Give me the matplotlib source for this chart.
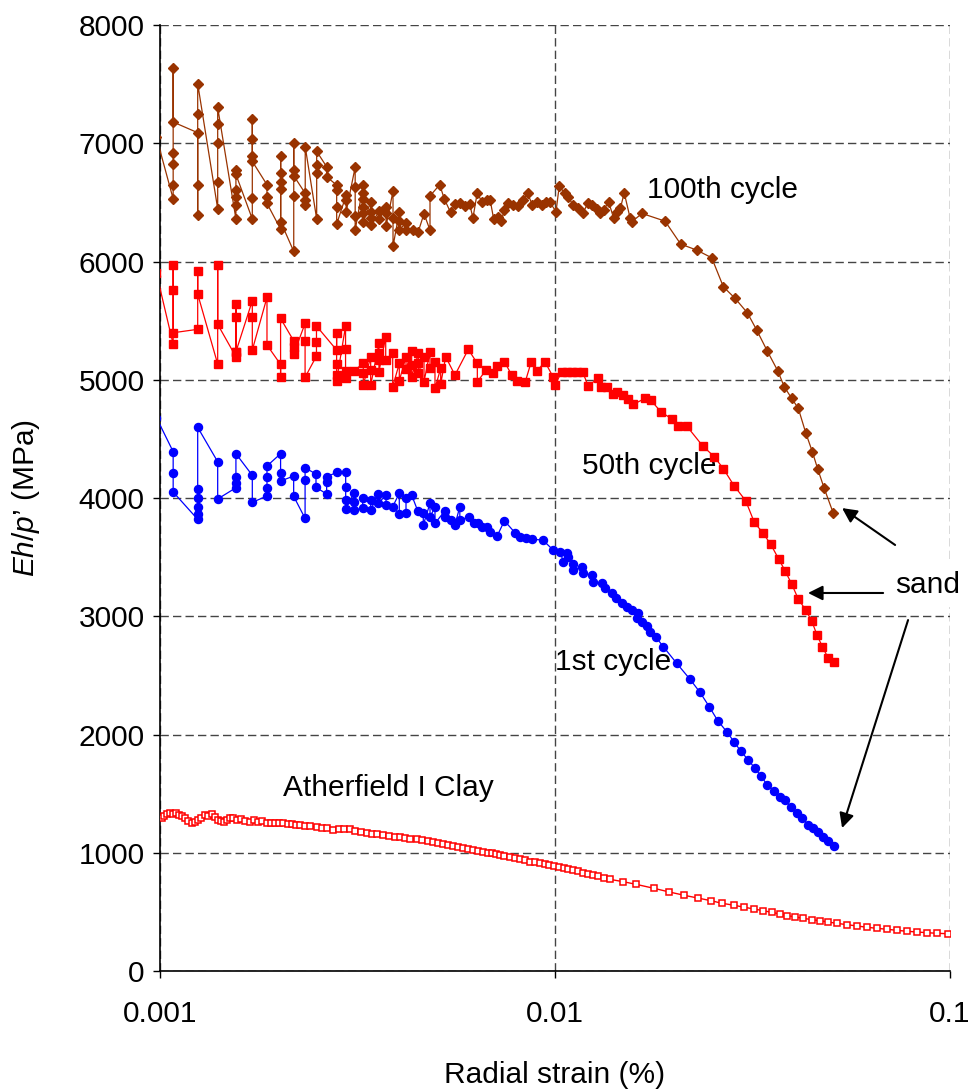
import matplotlib
matplotlib.use("Agg")
import matplotlib.pyplot as plt
from matplotlib.ticker import FixedLocator, FixedFormatter, NullLocator

plt.rcParams['font.family'] = ['Liberation Sans', 'DejaVu Sans']
plt.rcParams['mathtext.fontset'] = 'custom'
plt.rcParams['mathtext.it'] = 'Liberation Sans:italic'
plt.rcParams['mathtext.rm'] = 'Liberation Sans'

# ---- 100th cycle (sand) ----
strain_100 = [0.00098,
    0.00108, 0.00108, 0.00108, 0.00108, 0.00108, 0.00108,
    0.001246, 0.001246, 0.001246, 0.001246, 0.001246,
    0.0014, 0.0014, 0.0014, 0.0014, 0.0014,
    0.001557, 0.001557, 0.001557, 0.001557, 0.001557, 0.001557,
    0.001713, 0.001713, 0.001713, 0.001713, 0.001713, 0.001713,
    0.001866, 0.001866, 0.001866,
    0.002021, 0.002021, 0.002021, 0.002021, 0.002021, 0.002021,
    0.002181, 0.002181, 0.002181, 0.002181, 0.002181,
    0.002332, 0.002332, 0.002332, 0.002332,
    0.002493, 0.002493, 0.002493, 0.002493,
    0.002642, 0.002642,
    0.002801, 0.002801, 0.002801, 0.002801,
    0.00296, 0.00296, 0.00296,
    0.00312, 0.00312, 0.00312, 0.00312,
    0.003271, 0.003271, 0.003271, 0.003271, 0.003271, 0.003271,
    0.003415, 0.003415, 0.003415, 0.003415,
    0.003591, 0.003591,
    0.003735, 0.003735, 0.003735,
    0.00389, 0.00389, 0.00389,
    0.004035, 0.004035, 0.004035,
    0.004196, 0.004196,
    0.00437, 0.004508, 0.00466, 0.004826, 0.004826,
    0.005107, 0.005245, 0.005443, 0.005581, 0.005742, 0.00591, 0.006082,
    0.006199, 0.006356, 0.006527, 0.00672, 0.006853, 0.006997, 0.007162,
    0.007304, 0.007447, 0.007592, 0.007814, 0.008043, 0.008311, 0.008519,
    0.008768, 0.009024, 0.009288, 0.009472, 0.009693, 0.010058, 0.01025,
    0.01059, 0.0108, 0.01111, 0.01144, 0.01177, 0.01211, 0.01239, 0.01275,
    0.01302, 0.01328, 0.01367, 0.01408, 0.01435, 0.01464, 0.01497, 0.0155,
    0.01566, 0.0166, 0.01899, 0.0208, 0.02284, 0.02493, 0.02668, 0.02856,
    0.03068, 0.0324, 0.03447, 0.03662, 0.03805, 0.03973, 0.04129, 0.04312,
    0.04481, 0.04625, 0.04797, 0.05065]
eh_100 = [7050,
    6530, 6650, 6825, 6920, 7640, 7180,
    7090, 7245, 6650, 6393, 7504,
    6447, 6675, 7002, 7163, 7304,
    6360, 6478, 6548, 6605, 6776, 6737,
    6360, 6535, 7033, 7203, 6892, 6847,
    6650, 6548, 6492,
    6273, 6892, 6748, 6670, 6613, 6337,
    6086, 7002, 6774, 6551, 6726,
    6577, 6520, 6478, 6971,
    6360, 6746, 6813, 6932,
    6802, 6717,
    6647, 6605, 6458, 6317,
    6562, 6520, 6421,
    6799, 6633, 6385, 6266,
    6650, 6577, 6529, 6463, 6408, 6337,
    6500, 6420, 6370, 6310,
    6430, 6360,
    6460, 6410, 6300,
    6596, 6371, 6128,
    6420, 6340, 6266,
    6330, 6266,
    6266, 6254, 6405, 6266, 6555,
    6650, 6530, 6415, 6486, 6497, 6469, 6484,
    6370, 6582, 6506, 6520, 6520, 6357, 6379,
    6342, 6436, 6492, 6480, 6466, 6520, 6577,
    6478, 6506, 6478, 6506, 6506, 6421, 6638,
    6577, 6548, 6478, 6450, 6413, 6492, 6478, 6441,
    6407, 6436, 6506, 6365, 6421, 6450, 6582, 6365,
    6337, 6407, 6342, 6148, 6097, 6032, 5787, 5689,
    5567, 5421, 5243, 5077, 4941, 4843, 4759, 4552,
    4392, 4245, 4087, 3871]

# ---- 50th cycle (sand) ----
strain_50 = [0.00098,
    0.00108, 0.00108, 0.00108, 0.00108,
    0.001246, 0.001246, 0.001246,
    0.0014, 0.0014, 0.0014,
    0.001557, 0.001557, 0.001557, 0.001557, 0.001557,
    0.001713, 0.001713, 0.001713,
    0.001866, 0.001866,
    0.00202, 0.00202, 0.00202,
    0.00218, 0.00218, 0.00218,
    0.00233, 0.00233, 0.00233,
    0.00249, 0.00249, 0.00249,
    0.0028, 0.0028, 0.0028, 0.0028, 0.0028,
    0.00295, 0.00295, 0.00295, 0.00295,
    0.0031,
    0.003271, 0.003271, 0.003271,
    0.003415, 0.003415, 0.003415,
    0.003584, 0.003584, 0.003584, 0.003584,
    0.003728, 0.003728,
    0.003883, 0.003883,
    0.004035, 0.004035,
    0.004196, 0.004196,
    0.004337, 0.004337, 0.004337,
    0.004508, 0.004508, 0.004508,
    0.00466, 0.00466,
    0.004826, 0.004826,
    0.004968, 0.004968,
    0.005136, 0.005136,
    0.005288, 0.005581, 0.006032, 0.006359, 0.006359, 0.006687, 0.006979,
    0.007143, 0.007447, 0.00777, 0.00803, 0.0084, 0.0087, 0.00902, 0.00943,
    0.0099, 0.0100, 0.0104, 0.0107, 0.01102, 0.01135, 0.01175, 0.01214,
    0.01287, 0.01308, 0.01352, 0.0140, 0.01438, 0.01484, 0.01528, 0.01579,
    0.0169, 0.01747, 0.01855, 0.01974, 0.02045, 0.02155, 0.02365, 0.02531,
    0.02668, 0.02839, 0.03039, 0.03196, 0.03356, 0.03517, 0.03685, 0.03823,
    0.03973, 0.04129, 0.04312, 0.04466, 0.04606, 0.04751, 0.04919, 0.05085]
eh_50 = [5900,
    5300, 5759, 5970, 5398,
    5427, 5920, 5725,
    5133, 5970, 5469,
    5195, 5237, 5638, 5533, 5237,
    5669, 5533, 5252,
    5697, 5294,
    5130, 5021, 5519,
    5330, 5280, 5218,
    5477, 5328, 5021,
    5201, 5322, 5455,
    5252, 5393, 5133, 5040, 4992,
    5455, 5257, 5077, 5012,
    5077,
    5139, 5055, 4956,
    5195, 5082, 4953,
    5308, 5229, 5167, 5068,
    5364, 5167,
    5224, 4941,
    5139, 4992,
    5195, 5088,
    5246, 5125, 5026,
    5224, 5139, 5055,
    5195, 4983,
    5237, 5097,
    5153, 4928,
    5097, 4964,
    5195, 5040, 5257, 5139, 4983, 5082, 5060,
    5120, 5153, 5040, 4992, 4978, 5148, 5077, 5153,
    5021, 4956, 5068, 5065, 5065, 5065, 5065, 4947,
    5016, 4938, 4938, 4880, 4895, 4871, 4836, 4792,
    4843, 4829, 4728, 4670, 4610, 4609, 4441, 4349,
    4248, 4105, 3977, 3794, 3707, 3608, 3484, 3385,
    3273, 3146, 3053, 2960, 2841, 2743, 2644, 2611]

# ---- 1st cycle (sand) ----
strain_1 = [0.00098,
    0.00108, 0.00108, 0.00108,
    0.001246, 0.001246, 0.001246, 0.001246, 0.001246, 0.001246,
    0.0014, 0.0014,
    0.001557, 0.001557, 0.001557, 0.001557,
    0.001713, 0.001713,
    0.001866, 0.001866, 0.001866, 0.001866,
    0.00202, 0.00202, 0.00202,
    0.00218, 0.00218,
    0.00233, 0.00233, 0.00233,
    0.002483, 0.002483,
    0.002642, 0.002642, 0.002642,
    0.002801,
    0.002952, 0.002952, 0.002952, 0.002952,
    0.003099, 0.003099, 0.003099,
    0.00326, 0.00326,
    0.003415, 0.003415,
    0.00357, 0.00357,
    0.003735, 0.003735,
    0.003883,
    0.004035, 0.004035,
    0.004196, 0.004196,
    0.004337, 0.004491,
    0.004641, 0.004641,
    0.004826, 0.004826,
    0.004968, 0.004968,
    0.005266, 0.005266,
    0.005443, 0.005581, 0.005742, 0.005742,
    0.006067, 0.006235, 0.006394, 0.006527, 0.006715, 0.006853, 0.007143,
    0.007447, 0.007918, 0.008152, 0.008443, 0.008768, 0.009308,
    0.0099, 0.0103, 0.0105, 0.0107, 0.0108, 0.01111, 0.01111, 0.01168,
    0.01177, 0.01239, 0.01249, 0.01313, 0.01339, 0.01392, 0.01427, 0.01475,
    0.01519, 0.01564, 0.01625, 0.01616, 0.01658, 0.01707, 0.0174, 0.01802,
    0.0188, 0.02033, 0.02197, 0.02328, 0.02458, 0.02582, 0.02721, 0.02839,
    0.02952, 0.03086, 0.03208, 0.03322, 0.03447, 0.03585, 0.03713, 0.03823,
    0.03951, 0.04092, 0.04228, 0.04378, 0.04507, 0.04641, 0.04777, 0.04919,
    0.05085]
eh_1 = [4679,
    4392, 4214, 4051,
    3820, 3862, 3921, 3997, 4074, 4598,
    4307, 3992,
    4087, 4129, 4180, 4375,
    4192, 3964,
    4017, 4085, 4180, 4271,
    4375, 4214, 4144,
    4186, 4015,
    3828, 4152, 4256,
    4203, 4091,
    4034, 4138, 4180,
    4217,
    4224, 4096, 3983, 3910,
    4040, 3969, 3899,
    3913, 3997,
    3983, 3899,
    4034, 3955,
    4025, 3941,
    3927,
    4040, 3862,
    3871, 3997,
    4025, 3893,
    3871, 3772,
    3955, 3842,
    3921, 3786,
    3893, 3842,
    3814, 3772, 3927, 3814,
    3842, 3791, 3791, 3752, 3755, 3715, 3681,
    3808, 3707, 3673, 3659, 3651, 3645,
    3560, 3546, 3461, 3532, 3504, 3442, 3391, 3419,
    3363, 3349, 3292, 3279, 3236, 3194, 3152, 3110,
    3081, 3053, 3030, 2983, 2954, 2918, 2869, 2822,
    2743, 2602, 2467, 2357, 2235, 2117, 2024, 1939,
    1860, 1784, 1714, 1649, 1573, 1525, 1474, 1446,
    1384, 1334, 1291, 1235, 1207, 1173, 1136, 1099,
    1057]

# ---- Atherfield I Clay ----
strain_clay = [0.00101, 0.001024, 0.001042, 0.00106, 0.001079, 0.001098,
    0.001117, 0.001137, 0.001157, 0.001177, 0.001203, 0.001226, 0.001248,
    0.00127, 0.0013, 0.001323, 0.001352, 0.001378, 0.001402, 0.001427,
    0.001452, 0.001478, 0.001504, 0.001533, 0.001566, 0.001604, 0.001641,
    0.00169, 0.00173, 0.00177, 0.001812, 0.001863, 0.00191, 0.001955,
    0.002001, 0.002052, 0.002109, 0.002159, 0.00221, 0.002262, 0.002328,
    0.002398, 0.002493, 0.002571, 0.002647, 0.002746, 0.002839, 0.002923,
    0.003027, 0.003117, 0.003228, 0.003337, 0.003441, 0.003543, 0.003676,
    0.0038, 0.003935, 0.004051, 0.004171, 0.004295, 0.004466, 0.004606,
    0.00477, 0.00492, 0.005056, 0.005214, 0.00536, 0.005527, 0.005681,
    0.005859, 0.006021, 0.006211, 0.006384, 0.006585, 0.006766, 0.006925,
    0.007088, 0.007254, 0.007447, 0.007673, 0.007918, 0.008152, 0.0084,
    0.00865, 0.008915, 0.009185, 0.009455, 0.00965, 0.009917, 0.01021,
    0.01052, 0.01079, 0.01111, 0.01144, 0.01179, 0.01212, 0.01248, 0.01285,
    0.01331, 0.01378, 0.01489, 0.01604, 0.01781, 0.01948, 0.02125, 0.02301,
    0.02479, 0.02652, 0.02839, 0.03015, 0.03196, 0.03368, 0.03538, 0.03713,
    0.03874, 0.04052, 0.04253, 0.04466, 0.04688, 0.04919, 0.05168, 0.05478,
    0.05805, 0.06153, 0.06522, 0.06914, 0.0733, 0.0777, 0.08235, 0.0873,
    0.09255, 0.099]
eh_clay = [1291, 1310, 1325, 1339, 1330, 1335,
    1318, 1311, 1290, 1270, 1249, 1262, 1275,
    1290, 1319, 1310, 1328, 1300, 1280, 1270,
    1263, 1275, 1290, 1291, 1280, 1283, 1270,
    1263, 1275, 1258, 1265, 1249, 1255, 1248,
    1252, 1249, 1240, 1245, 1235, 1235, 1228,
    1225, 1220, 1210, 1212, 1192, 1205, 1198,
    1198, 1185, 1175, 1164, 1162, 1158, 1150,
    1142, 1135, 1131, 1125, 1120, 1114, 1105,
    1098, 1093, 1085, 1074, 1065, 1057, 1048,
    1038, 1030, 1023, 1015, 1009, 1000, 995,
    988, 981, 975, 962, 955, 945, 935,
    924, 918, 911, 903, 896, 888, 880,
    870, 860, 850, 842, 826, 818, 810, 800,
    788, 775, 755, 733, 699, 668, 640, 617,
    595, 572, 556, 539, 524, 510, 496, 482,
    468, 457, 446, 434, 425, 414, 403, 392,
    381, 370, 361, 353, 344, 336, 330, 324,
    319, 315]

x_ticks = [0.001, 0.01, 0.1]
x_labels = ['0.001', '0.01', '0.1']
y_ticks = list(range(0, 9000, 1000))

FS = 21.5

fig = plt.figure(figsize=(9.73, 10.91), dpi=100)
ax = fig.add_axes([0.1644, 0.11, 0.812, 0.867])

ax.plot(strain_100, eh_100, color='#993300', lw=0.9, marker='D', ms=5.4,
        mec='#993300', mfc='#993300', zorder=4)
ax.plot(strain_50, eh_50, color='#FF0000', lw=0.9, marker='s', ms=6.0,
        mec='#FF0000', mfc='#FF0000', zorder=4)
ax.plot(strain_1, eh_1, color='#0000FF', lw=0.9, marker='o', ms=5.8,
        mec='#0000FF', mfc='#0000FF', zorder=4)
ax.plot(strain_clay, eh_clay, color='#FF0000', lw=1.0, marker='s', ms=4.6,
        mec='#FF0000', mfc='white', mew=1.1, zorder=3)

ax.set_xscale('log')
ax.set_xlim(0.001, 0.1)
ax.set_ylim(0, 8000)
ax.xaxis.set_major_locator(FixedLocator(x_ticks))
ax.xaxis.set_major_formatter(FixedFormatter(x_labels))
ax.xaxis.set_minor_locator(NullLocator())
ax.set_yticks(y_ticks)

ax.grid(True, color='#444444', ls=(0, (6, 3)), lw=1.0, zorder=1)
ax.set_axisbelow(True)
for s in ['top', 'right']:
    ax.spines[s].set_visible(False)
for s in ['left', 'bottom']:
    ax.spines[s].set_linewidth(1.2)
ax.tick_params(axis='both', direction='out', length=5, width=1.0,
               labelsize=FS)
ax.tick_params(axis='x', pad=16)
ax.tick_params(axis='y', pad=6)

ax.set_xlabel('Radial strain (%)', fontsize=FS, labelpad=24)
ax.set_ylabel(r'$\mathit{Eh/p}$’ (MPa)', fontsize=FS, labelpad=26)

ax.text(0.0171, 6605, '100th cycle', fontsize=FS, va='center', ha='left')
ax.text(0.0117, 4271, '50th cycle', fontsize=FS, va='center', ha='left')
ax.text(0.0100, 2613, '1st cycle', fontsize=FS, va='center', ha='left')
ax.text(0.00205, 1548, 'Atherfield I Clay', fontsize=FS, va='center', ha='left')

arrow = dict(arrowstyle='-|>', color='black', lw=1.5, mutation_scale=22,
             shrinkA=0, shrinkB=0)
ax.annotate('', xy=(0.0533, 3915), xytext=(0.0726, 3603), arrowprops=arrow,
            zorder=6)
ax.annotate('', xy=(0.0437, 3197), xytext=(0.0677, 3197), arrowprops=arrow,
            zorder=6)
ax.annotate('', xy=(0.0533, 1209), xytext=(0.0783, 2968), arrowprops=arrow,
            zorder=6)
ax.text(0.0726, 3264, 'sand', fontsize=FS, va='center', ha='left', zorder=7,
        clip_on=False,
        bbox=dict(facecolor='white', edgecolor='none', pad=6))

fig.savefig('out.png', dpi=100)
